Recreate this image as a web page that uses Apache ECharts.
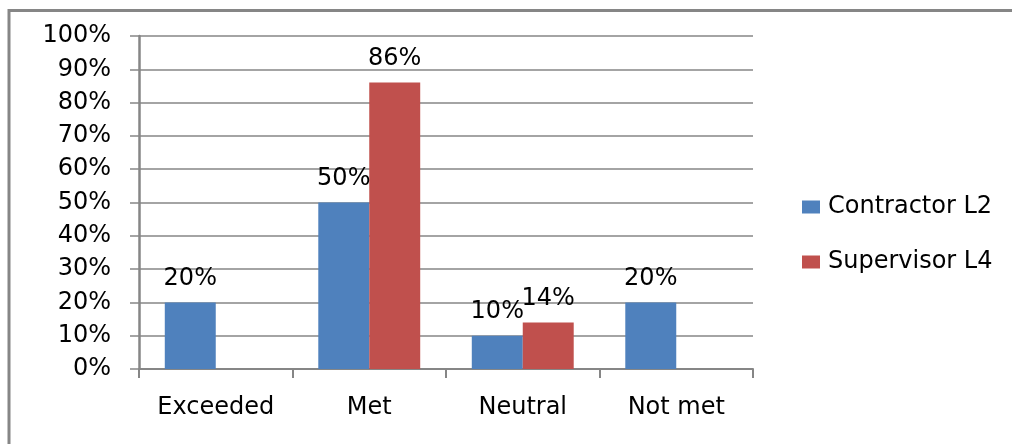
<!DOCTYPE html>
<html>
<head>
<meta charset="utf-8">
<script src="https://cdn.jsdelivr.net/npm/echarts@6/dist/echarts.min.js"></script>
<style>
html,body{margin:0;padding:0;background:#fff;}
#c{width:1012px;height:444px;}
</style>
</head>
<body>
<div id="c"></div>
<script>
const categories = ['Exceeded', 'Met', 'Neutral', 'Not met'];
const contractorL2 = [20, 50, 10, 20];
const supervisorL4 = [0, 86, 14, 0];
const yTicks = [0, 10, 20, 30, 40, 50, 60, 70, 80, 90, 100];

const FONT = 'DejaVu Sans';
const gray = '#868686';
const chart = echarts.init(document.getElementById('c'), null, {renderer: 'canvas'});
const labelCfg = {
  show: true,
  position: 'top',
  distance: 12,
  color: '#000',
  fontFamily: FONT,
  fontSize: 24,
  formatter: p => (p.value ? p.value + '%' : '')
};
chart.setOption({
  animation: false,
  backgroundColor: '#fff',
  graphic: [{
    type: 'rect',
    shape: {x: 9, y: 10.5, width: 1200, height: 600},
    style: {fill: 'none', stroke: gray, lineWidth: 3},
    silent: true
  }],
  grid: {left: 139, right: 259, top: 36, bottom: 75},
  legend: {
    orient: 'vertical',
    left: 802,
    top: 195,
    padding: 0,
    itemWidth: 18,
    itemHeight: 13,
    itemGap: 31,
    icon: 'rect',
    textStyle: {fontFamily: FONT, fontSize: 24, color: '#000', lineHeight: 24, padding: [0, 0, 0, 3]},
    data: ['Contractor L2', 'Supervisor L4']
  },
  xAxis: {
    type: 'category',
    data: categories,
    axisLine: {lineStyle: {color: gray, width: 2}},
    axisTick: {show: true, length: 9, lineStyle: {color: gray, width: 2}, alignWithLabel: false},
    axisLabel: {fontFamily: FONT, fontSize: 24, color: '#000', margin: 27}
  },
  yAxis: {
    type: 'value',
    min: yTicks[0],
    max: yTicks[yTicks.length - 1],
    interval: 10,
    axisLine: {show: true, lineStyle: {color: gray, width: 2.5}},
    axisTick: {show: true, length: 9, lineStyle: {color: gray, width: 1.5}},
    splitLine: {lineStyle: {color: gray, width: 1.5}},
    axisLabel: {fontFamily: FONT, fontSize: 24, color: '#000', margin: 28, formatter: v => v + '%'}
  },
  series: [
    {name: 'Contractor L2', type: 'bar', data: contractorL2, barWidth: '33.2%', barGap: '0%',
     itemStyle: {color: '#4F81BD'}, label: labelCfg},
    {name: 'Supervisor L4', type: 'bar', data: supervisorL4, barWidth: '33.2%', barGap: '0%',
     itemStyle: {color: '#C0504D'}, label: labelCfg}
  ]
});
</script>
</body>
</html>
